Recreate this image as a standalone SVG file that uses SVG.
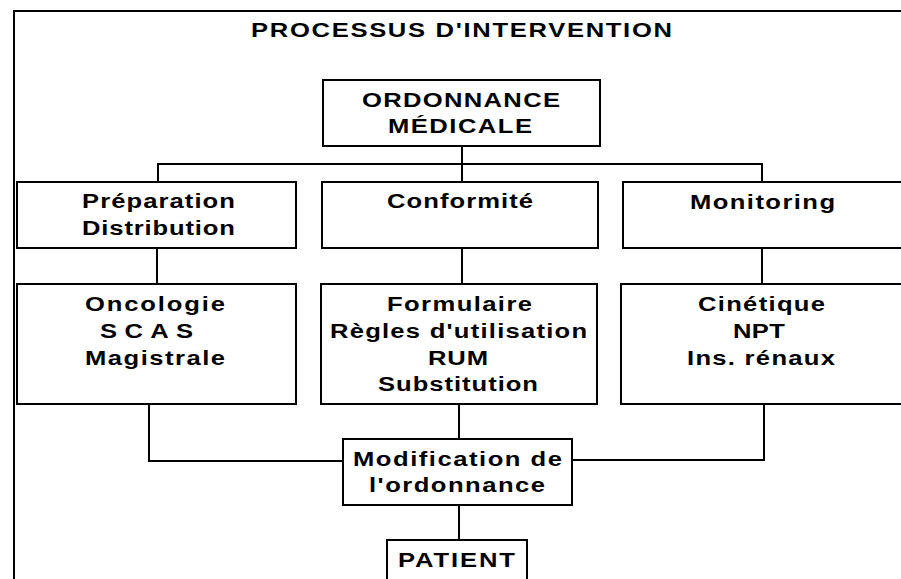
<svg xmlns="http://www.w3.org/2000/svg" width="901" height="579" viewBox="0 0 901 579">
<style>
.box{fill:#fff;stroke:#000;stroke-width:2}
.frame{fill:none;stroke:#000;stroke-width:2}
.c{fill:none;stroke:#000;stroke-width:2}
text{font-family:"Liberation Sans",Arial,sans-serif;font-weight:bold;font-size:20px;fill:#000}
</style>
<rect width="901" height="579" fill="#fff"/>
<rect class="frame" x="14" y="11" width="900" height="600"/>
<text transform="translate(251 37) scale(1.28 1)" textLength="328.9" lengthAdjust="spacing">PROCESSUS D'INTERVENTION</text>
<g id="connectors">
<path class="c" d="M462 146V182M158 182V164H762V182"/>
<path class="c" d="M157 248V284M462 248V284M762 248V284"/>
<path class="c" d="M149 404V461H343M459 404V439M764 404V460H572M459 505V540"/>
</g>
<g id="ordonnance">
<rect class="box" x="323" y="80" width="277" height="66"/>
<text transform="translate(362 107) scale(1.28 1)" textLength="154.7" lengthAdjust="spacing">ORDONNANCE</text>
<text transform="translate(388 133) scale(1.28 1)" textLength="112.5" lengthAdjust="spacing">MÉDICALE</text>
</g>
<g id="preparation">
<rect class="box" x="17" y="182" width="279" height="66"/>
<text transform="translate(82 208) scale(1.28 1)" textLength="119.5" lengthAdjust="spacing">Préparation</text>
<text transform="translate(82 235) scale(1.28 1)" textLength="119.5" lengthAdjust="spacing">Distribution</text>
</g>
<g id="conformite">
<rect class="box" x="322" y="182" width="276" height="66"/>
<text transform="translate(387 208) scale(1.28 1)" textLength="114.1" lengthAdjust="spacing">Conformité</text>
</g>
<g id="monitoring">
<rect class="box" x="623" y="182" width="290" height="66"/>
<text transform="translate(690 209) scale(1.28 1)" textLength="113.3" lengthAdjust="spacing">Monitoring</text>
</g>
<g id="oncologie">
<rect class="box" x="17" y="284" width="279" height="120"/>
<text transform="translate(85 311) scale(1.28 1)" textLength="109.4" lengthAdjust="spacing">Oncologie</text>
<text transform="translate(100 338) scale(1.28 1)" textLength="72.7" lengthAdjust="spacing">SCAS</text>
<text transform="translate(85 365) scale(1.28 1)" textLength="109.4" lengthAdjust="spacing">Magistrale</text>
</g>
<g id="formulaire">
<rect class="box" x="321" y="284" width="276" height="120"/>
<text transform="translate(387 311) scale(1.28 1)" textLength="113.3" lengthAdjust="spacing">Formulaire</text>
<text transform="translate(330 338) scale(1.28 1)" textLength="200.8" lengthAdjust="spacing">Règles d'utilisation</text>
<text transform="translate(428 365) scale(1.28 1)" textLength="46.9" lengthAdjust="spacing">RUM</text>
<text transform="translate(378 391) scale(1.28 1)" textLength="125" lengthAdjust="spacing">Substitution</text>
</g>
<g id="cinetique">
<rect class="box" x="621" y="284" width="292" height="120"/>
<text transform="translate(698 311) scale(1.28 1)" textLength="99.2" lengthAdjust="spacing">Cinétique</text>
<text transform="translate(733 338) scale(1.28 1)" textLength="40.6" lengthAdjust="spacing">NPT</text>
<text transform="translate(687 365) scale(1.28 1)" textLength="115.6" lengthAdjust="spacing">Ins. rénaux</text>
</g>
<g id="modification">
<rect class="box" x="343" y="439" width="229" height="66"/>
<text transform="translate(353 466) scale(1.28 1)" textLength="163.3" lengthAdjust="spacing">Modification de</text>
<text transform="translate(369 492) scale(1.28 1)" textLength="137.5" lengthAdjust="spacing">l'ordonnance</text>
</g>
<g id="patient">
<rect class="box" x="387" y="540" width="140" height="60"/>
<text transform="translate(398 567) scale(1.28 1)" textLength="91.4" lengthAdjust="spacing">PATIENT</text>
</g>
</svg>
